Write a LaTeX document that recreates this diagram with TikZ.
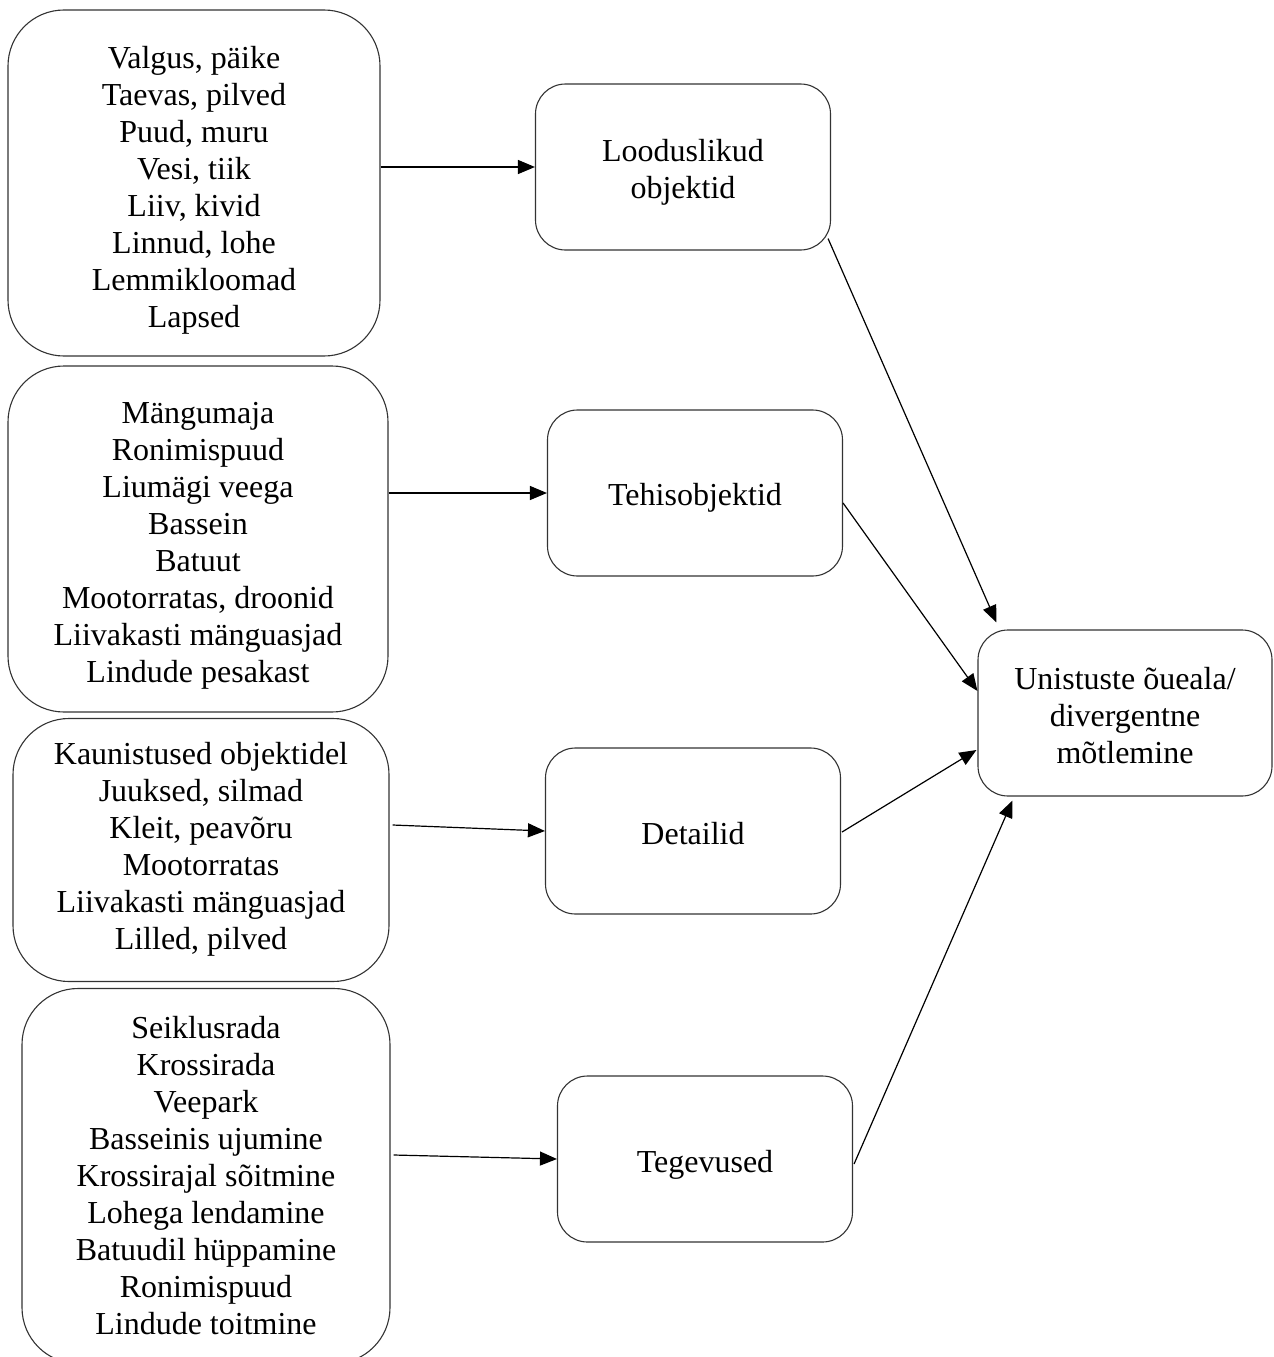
\documentclass[tikz,border=0pt]{standalone}
\usepackage{fontspec}
\setmainfont{Liberation Serif}
\usetikzlibrary{arrows.meta,calc}
\begin{document}
\begin{tikzpicture}[x=1pt,y=-1pt,
  box/.style={draw=black!80,line width=1.1pt,rounded corners=#1,inner sep=0pt},
  srcbox/.style={box=56pt},
  midbox/.style={box=30pt,minimum width=295pt,minimum height=166pt},
  txt/.style={align=center,font=\fontsize{32}{37}\selectfont,inner sep=0pt},
  arr/.style={line width=1.2pt,draw=black,-{Triangle[length=17pt,width=14pt]}}]
\useasboundingbox (0,0) rectangle (1274,1357);

% left boxes
\node[srcbox,minimum width=372pt,minimum height=346pt] (a1) at (194,183) {};
\node[txt] (a1t) at (194,190)
  {Valgus, päike\\Taevas, pilved\\Puud, muru\\Vesi, tiik\\Liiv, kivid\\Linnud, lohe\\Lemmikloomad\\Lapsed};
\node[srcbox,minimum width=380pt,minimum height=346pt] (a2) at (198,539) {};
\node[txt] (a2t) at (198,546)
  {Mängumaja\\Ronimispuud\\Liumägi veega\\Bassein\\Batuut\\Mootorratas, droonid\\Liivakasti mänguasjad\\Lindude pesakast};
\node[srcbox,minimum width=376pt,minimum height=263pt] (a3) at (201,850) {};
\node[txt] (a3t) at (201,849)
  {Kaunistused objektidel\\Juuksed, silmad\\Kleit, peavõru\\Mootorratas\\Liivakasti mänguasjad\\Lilled, pilved};
\node[srcbox,minimum width=368pt,minimum height=375pt] (a4) at (206,1176) {};
\node[txt] (a4t) at (206,1176)
  {Seiklusrada\\Krossirada\\Veepark\\Basseinis ujumine\\Krossirajal sõitmine\\Lohega lendamine\\Batuudil hüppamine\\Ronimispuud\\Lindude toitmine};

% middle boxes
\node[midbox] (b1) at (683,167) {};
\node[txt] (b1t) at (683,172) {Looduslikud\\objektid};
\node[midbox] (b2) at (695,493) {};
\node[txt] (b2t) at (695,498) {Tehisobjektid};
\node[midbox] (b3) at (693,831) {};
\node[txt] (b3t) at (693,834) {Detailid};
\node[midbox] (b4) at (705,1159) {};
\node[txt] (b4t) at (705,1165) {Tegevused};

% target box
\node[box=30pt,minimum width=294pt,minimum height=166pt] (c) at (1125,713) {};
\node[txt] (ct) at (1125,716) {Unistuste õueala/\\divergentne\\mõtlemine};

\draw[arr] (a1.east |- b1.west) -- (b1.west);
\draw[arr] (a2.east |- b2.west) -- (b2.west);
\draw[arr] ($(a3.east |- b3.west)+(3,-6)$) -- (b3.west);
\draw[arr] ($(a4.east |- b4.west)+(3,-4)$) -- (b4.west);

\draw[arr] ($(b1.south east)+(-3,-12)$) -- ($(c.north west)+(19,-7)$);
\draw[arr] ($(b2.east)+(0,10)$) -- ($(c.west)+(0,-22)$);
\draw[arr] ($(b3.east)+(1,1)$) -- ($(c.west)+(-1,37)$);
\draw[arr] ($(b4.east)+(1,5)$) -- ($(c.south west)+(35,4)$);
\end{tikzpicture}
\end{document}
